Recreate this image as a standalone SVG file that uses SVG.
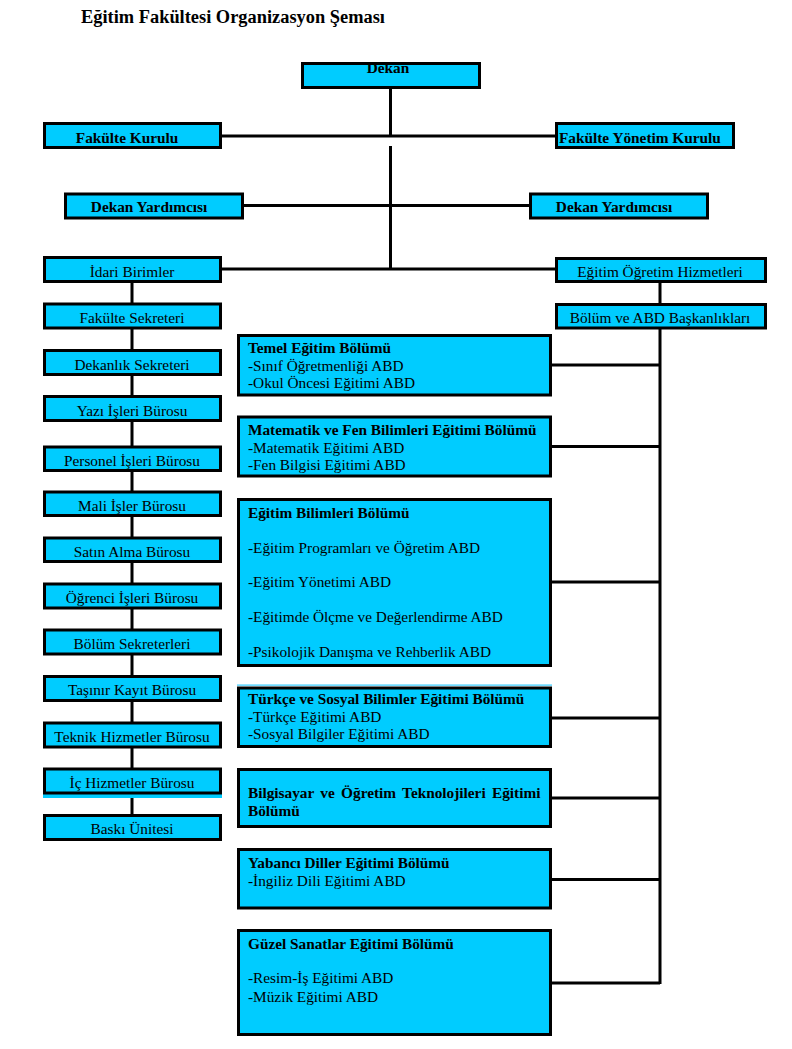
<svg xmlns="http://www.w3.org/2000/svg" width="792" height="1049" viewBox="0 0 792 1049" font-family="'Liberation Serif', 'Times New Roman', Times, 'DejaVu Serif', serif">
<style>
.box{fill:#00CCFF;stroke:#000;stroke-width:3}
.t{font-family:'Liberation Serif','Times New Roman',Times,'DejaVu Serif',serif;font-size:15.3px;fill:#000}
.b{font-weight:bold}
.c{text-anchor:middle}
.ln{stroke:#000;stroke-width:3;fill:none}
.strip{fill:#00CCFF}
</style>
<rect width="792" height="1049" fill="#fff"/>
<text x="81" y="23" class="t b" style="font-size:18.4px">Eğitim Fakültesi Organizasyon Şeması</text>

<g id="connectors">
<path class="ln" d="M390.5 89V136M222 136H555M390.5 146V269M244 205.5H529M222 269H555"/>
<path class="ln" d="M660 282V304M660 329V984"/>
<path class="ln" d="M132 283V814"/>
<path class="ln" d="M552 365H660M552 446.5H660M552 582H660M552 718H660M552 798H660M552 879.5H660M552 983H660"/>
</g>

<g id="dekan"><rect class="box" x="302.5" y="63.5" width="177" height="24"/><text x="388" y="72.5" class="t b c">Dekan</text></g>
<g id="fakulte-kurulu"><rect class="box" x="44.5" y="123.5" width="176" height="24"/><text x="127" y="142.5" class="t b c">Fakülte Kurulu</text></g>
<g id="fakulte-yonetim-kurulu"><rect class="box" x="556.5" y="123.5" width="177" height="24"/><text x="559" y="142.5" class="t b">Fakülte Yönetim Kurulu</text></g>
<g id="dekan-yrd-1"><rect class="box" x="65.5" y="194" width="177" height="24"/><text x="149" y="211.5" class="t b c">Dekan Yardımcısı</text></g>
<g id="dekan-yrd-2"><rect class="box" x="530.5" y="194" width="177" height="24"/><text x="614" y="211.5" class="t b c">Dekan Yardımcısı</text></g>

<g id="idari-birimler"><rect class="box" x="44.5" y="257.5" width="176" height="24"/><text x="132" y="276.5" class="t c">İdari Birimler</text></g>
<g id="egitim-ogretim"><rect class="box" x="556.5" y="258.5" width="209" height="23"/><text x="660" y="276.5" class="t c">Eğitim Öğretim Hizmetleri</text></g>
<g id="bolum-abd"><rect class="box" x="556.5" y="304.5" width="209" height="23.5"/><text x="660" y="322.5" class="t c">Bölüm ve ABD Başkanlıkları</text></g>

<g id="fakulte-sekreteri"><rect class="box" x="44.5" y="304" width="176" height="24"/><text x="132" y="323" class="t c">Fakülte Sekreteri</text></g>
<g id="dekanlik-sekreteri"><rect class="box" x="44.5" y="350.5" width="176" height="24"/><text x="132" y="369.5" class="t c">Dekanlık Sekreteri</text></g>
<g id="yazi-isleri"><rect class="box" x="44.5" y="396.5" width="176" height="24"/><text x="132" y="415.5" class="t c">Yazı İşleri Bürosu</text></g>
<g id="personel-isleri"><rect class="box" x="44.5" y="447" width="176" height="23.5"/><text x="132" y="465.5" class="t c">Personel İşleri Bürosu</text></g>
<g id="mali-isler"><rect class="box" x="44.5" y="492" width="176" height="23.5"/><text x="132" y="510.5" class="t c">Mali İşler Bürosu</text></g>
<g id="satin-alma"><rect class="box" x="44.5" y="538" width="176" height="23.5"/><text x="132" y="556.5" class="t c">Satın Alma Bürosu</text></g>
<g id="ogrenci-isleri"><rect class="box" x="44.5" y="584" width="176" height="24"/><text x="132" y="602.5" class="t c">Öğrenci İşleri Bürosu</text></g>
<g id="bolum-sekreterleri"><rect class="box" x="44.5" y="630" width="176" height="24"/><text x="132" y="648.5" class="t c">Bölüm Sekreterleri</text></g>
<g id="tasinir-kayit"><rect class="box" x="44.5" y="676.5" width="176" height="24"/><text x="132" y="695" class="t c">Taşınır Kayıt Bürosu</text></g>
<g id="teknik-hizmetler"><rect class="box" x="44.5" y="723" width="176" height="24"/><text x="132" y="741.5" class="t c">Teknik Hizmetler Bürosu</text></g>
<g id="ic-hizmetler"><rect class="strip" x="43" y="794" width="179" height="4"/><rect class="box" x="44.5" y="769" width="176" height="24"/><text x="132" y="787.5" class="t c">İç Hizmetler Bürosu</text></g>
<g id="baski-unitesi"><rect class="box" x="44.5" y="815.5" width="176" height="24"/><text x="132" y="833.5" class="t c">Baskı Ünitesi</text></g>

<g id="temel-egitim"><rect class="box" x="238.5" y="335.5" width="312" height="59.5"/>
<text class="t" x="248"><tspan class="b" x="248" y="353">Temel Eğitim Bölümü</tspan><tspan x="248" y="370.5">-Sınıf Öğretmenliği ABD</tspan><tspan x="248" y="388">-Okul Öncesi Eğitimi ABD</tspan></text></g>
<g id="matematik-fen"><rect class="box" x="238.5" y="417" width="312" height="59"/>
<text class="t" x="248"><tspan class="b" x="248" y="435">Matematik ve Fen Bilimleri Eğitimi Bölümü</tspan><tspan x="248" y="452.5">-Matematik Eğitimi ABD</tspan><tspan x="248" y="470">-Fen Bilgisi Eğitimi ABD</tspan></text></g>
<g id="egitim-bilimleri"><rect class="box" x="238.5" y="499.5" width="312" height="166"/>
<text class="t" x="248"><tspan class="b" x="248" y="517.5">Eğitim Bilimleri Bölümü</tspan><tspan x="248" y="552.5">-Eğitim Programları ve Öğretim ABD</tspan><tspan x="248" y="587">-Eğitim Yönetimi ABD</tspan><tspan x="248" y="622">-Eğitimde Ölçme ve Değerlendirme ABD</tspan><tspan x="248" y="656.5">-Psikolojik Danışma ve Rehberlik ABD</tspan></text></g>
<g id="turkce-sosyal"><rect x="237" y="684.5" width="315" height="1.2" fill="#33CCFF"/><rect class="box" x="238.5" y="688" width="312" height="58.5"/>
<text class="t" x="248"><tspan class="b" x="248" y="704">Türkçe ve Sosyal Bilimler Eğitimi Bölümü</tspan><tspan x="248" y="721.5">-Türkçe Eğitimi ABD</tspan><tspan x="248" y="739">-Sosyal Bilgiler Eğitimi ABD</tspan></text></g>
<g id="bilgisayar"><rect class="box" x="238.5" y="769.5" width="312" height="57"/>
<text class="t b" x="248"><tspan x="248" y="798" word-spacing="2.5">Bilgisayar ve Öğretim Teknolojileri Eğitimi</tspan><tspan x="248" y="816">Bölümü</tspan></text></g>
<g id="yabanci-diller"><rect class="box" x="238.5" y="849.5" width="312" height="58.5"/>
<text class="t" x="248"><tspan class="b" x="248" y="868">Yabancı Diller Eğitimi Bölümü</tspan><tspan x="248" y="886">-İngiliz Dili Eğitimi ABD</tspan></text></g>
<g id="guzel-sanatlar"><rect class="box" x="238.5" y="930.5" width="312" height="104"/>
<text class="t" x="248"><tspan class="b" x="248" y="949">Güzel Sanatlar Eğitimi Bölümü</tspan><tspan x="248" y="983">-Resim-İş Eğitimi ABD</tspan><tspan x="248" y="1001.5">-Müzik Eğitimi ABD</tspan></text></g>
</svg>
